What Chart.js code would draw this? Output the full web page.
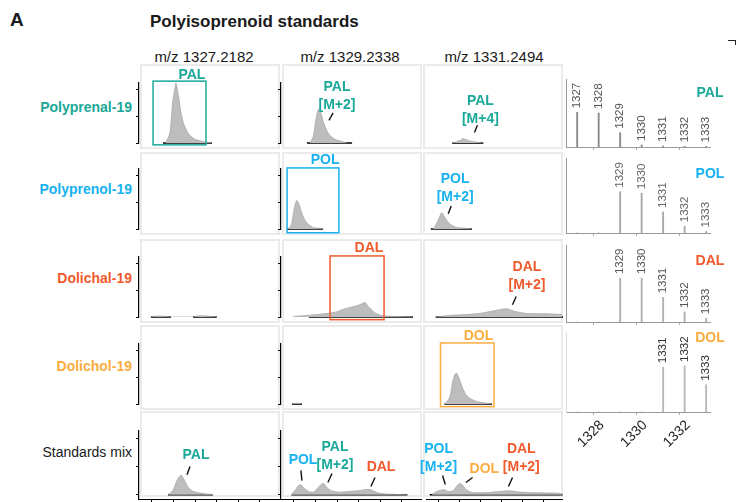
<!DOCTYPE html>
<html>
<head>
<meta charset="utf-8">
<script src="https://cdn.jsdelivr.net/npm/chart.js@4.4.1/dist/chart.umd.min.js"></script>
<style>
  body { margin: 0; background: #fff; }
  #fig { position: relative; width: 737px; height: 502px; overflow: hidden; font-family: "Liberation Sans", Arial, sans-serif; color: #1a1a1a; }
  .txt { position: absolute; white-space: nowrap; line-height: 1; }
  .rowlab { position: absolute; right: 605px; white-space: nowrap; font-size: 14px; font-weight: bold; line-height: 1; }
  .head { position: absolute; width: 140px; text-align: center; font-size: 15px; line-height: 1; }
  canvas { position: absolute; }
</style>
</head>
<body>
<div id="fig">
  <div class="txt" style="left:10px;top:10px;font-size:19px;font-weight:bold">A</div>
  <div class="txt" style="left:150px;top:13px;font-size:17px;font-weight:bold">Polyisoprenoid standards</div>
  <div class="head" style="left:134px;top:49px">m/z 1327.2182</div>
  <div class="head" style="left:280px;top:49px">m/z 1329.2338</div>
  <div class="head" style="left:424px;top:49px">m/z 1331.2494</div>
  <div class="rowlab" style="top:100px;color:#1aa898">Polyprenal-19</div>
  <div class="rowlab" style="top:182px;color:#17b2ef">Polyprenol-19</div>
  <div class="rowlab" style="top:271px;color:#f15a2b">Dolichal-19</div>
  <div class="rowlab" style="top:359px;color:#fbad3f">Dolichol-19</div>
  <div class="rowlab" style="top:445px;font-weight:normal">Standards mix</div>
  <div style="position:absolute;left:728px;top:40px;width:7px;height:4px;border-top:1px solid #222;border-right:1px solid #222"></div>
</div>
<script>
// ---------- colours ----------
const TEAL = "#1aa898";
const BLUE = "#17b2ef";
const RED = "#f15a2b";
const ORANGE = "#fbad3f";

// ---------- extracted ion chromatograms: [retention time, intensity] ----------
const palStd1327 = [[1.64, 0], [1.83, 0.38], [1.96, 1.55], [2.07, 2.08], [2.11, 2.25], [2.22, 1.80], [2.33, 1.20], [2.45, 0.77], [2.61, 0.46], [2.76, 0.28], [2.99, 0.14], [3.30, 0.07], [3.53, 0.03], [3.78, 0]];
const palStd1329 = [[1.74, 0], [1.90, 0.26], [2.02, 0.90], [2.13, 1.26], [2.24, 1.14], [2.36, 0.79], [2.51, 0.49], [2.67, 0.28], [2.90, 0.14], [3.21, 0.06], [3.44, 0]];
const palStd1331 = [[1.65, 0], [1.85, 0.04], [1.98, 0.10], [2.05, 0.08], [2.10, 0.15], [2.16, 0.18], [2.22, 0.12], [2.31, 0.14], [2.42, 0.09], [2.54, 0.07], [2.77, 0.035], [3.00, 0.01], [3.13, 0]];
const polStd1329 = [[0.74, 0], [0.89, 0.18], [1.00, 0.71], [1.12, 1.07], [1.23, 0.95], [1.36, 0.60], [1.51, 0.33], [1.66, 0.18], [1.89, 0.06], [2.20, 0.02], [2.36, 0]];
const polStd1331 = [[0.74, 0], [0.89, 0.18], [1.05, 0.47], [1.15, 0.61], [1.26, 0.49], [1.42, 0.29], [1.62, 0.14], [1.85, 0.06], [2.31, 0.02], [2.59, 0]];
const dalStd1327 = [[0.95, 0], [1.30, 0.04], [1.60, 0.02], [1.88, 0], [2.90, 0], [3.20, 0.05], [3.60, 0.03], [4.00, 0]];
const dalStd1329 = [[0.97, 0.02], [1.74, 0.07], [2.05, 0.09], [2.67, 0.15], [3.00, 0.20], [3.28, 0.29], [3.60, 0.36], [3.90, 0.42], [4.10, 0.48], [4.29, 0.54], [4.44, 0.39], [4.67, 0.21], [4.90, 0.09], [5.28, 0.035], [6.49, 0]];
const dalStd1331 = [[0.85, 0], [1.54, 0.06], [2.31, 0.09], [3.08, 0.15], [3.70, 0.24], [4.24, 0.31], [4.63, 0.21], [5.24, 0.13], [6.17, 0.12], [6.94, 0.09]];
const dolStd1329 = [[0.91, 0], [1.10, 0.03], [1.37, 0]];
const dolStd1331 = [[1.31, 0], [1.54, 0.27], [1.66, 0.80], [1.77, 1.10], [1.85, 1.16], [1.97, 0.98], [2.13, 0.63], [2.31, 0.35], [2.54, 0.19], [2.85, 0.09], [3.24, 0.035], [3.55, 0]];
const mix1327 = [[1.76, 0], [1.99, 0.18], [2.14, 0.47], [2.30, 0.67], [2.37, 0.68], [2.53, 0.47], [2.68, 0.26], [2.91, 0.12], [3.22, 0.06], [3.84, 0]];
const mix1329 = [[0.89, 0.02], [1.08, 0.18], [1.20, 0.32], [1.32, 0.35], [1.46, 0.24], [1.66, 0.12], [1.89, 0.09], [2.13, 0.26], [2.28, 0.38], [2.39, 0.39], [2.54, 0.24], [2.74, 0.14], [3.13, 0.09], [3.59, 0.12], [4.06, 0.15], [4.38, 0.19], [4.61, 0.16], [4.92, 0.06], [5.46, 0.02], [6.25, 0]];
const mix1331 = [[0.69, 0.02], [1.00, 0.14], [1.26, 0.18], [1.46, 0.12], [1.69, 0.14], [1.85, 0.29], [2.00, 0.40], [2.13, 0.35], [2.31, 0.18], [2.62, 0.08], [3.39, 0.08], [4.00, 0.12], [4.39, 0.14], [4.94, 0.09], [5.71, 0.07], [6.79, 0.05], [6.91, 0]];

// integration windows (black bars under the traces): [start, end]
const palStd1327Win = [[1.51, 3.78]];
const palStd1329Win = [[1.60, 3.69]];
const palStd1331Win = [[1.65, 3.13]];
const polStd1329Win = [[0.68, 2.34]];
const polStd1331Win = [[0.63, 2.59]];
const dalStd1327Win = [[0.95, 1.88], [2.90, 4.00]];
const dalStd1329Win = [[1.69, 6.51]];
const dalStd1331Win = [[0.86, 6.93]];
const dolStd1329Win = [[0.91, 1.37]];
const dolStd1331Win = [[1.28, 3.55]];
const mix1327Win = [[1.74, 3.82]];
const mix1329Win = [[0.89, 6.25]];
const mix1331Win = [[0.58, 6.91]];

// ---------- isotope patterns (relative intensity) ----------
const specMz = [1327.22, 1328.22, 1329.22, 1330.22, 1331.22, 1332.22, 1333.22];
const specLabels = ["1327", "1328", "1329", "1330", "1331", "1332", "1333"];
const palSpec = [0.51, 0.50, 0.21, 0.03, 0.015, 0.01, 0.008];
const polSpec = [0, 0, 0.55, 0.53, 0.28, 0.09, 0.02];
const dalSpec = [0, 0, 0.57, 0.57, 0.32, 0.13, 0.05];
const dolSpec = [0, 0, 0, 0, 0.56, 0.575, 0.34];

// ---------- layout ----------
const colLeft = [141, 283, 424];
const rowTop = [65, 153, 240, 326, 412];
const rowBase = [147, 233, 321, 408, 495];
const PANEL_W = 138;
const FONT = '"Liberation Sans", Arial, sans-serif';

Chart.defaults.font.family = FONT;

const panels = [
  { row: 0, col: 0, trace: palStd1327, win: palStd1327Win,
    rect: { t0: 1.05, t1: 3.5, v0: -0.07, v1: 2.32, color: TEAL },
    notes: [{ text: ["PAL"], color: TEAL, t: 2.85, v: 2.54 }] },
  { row: 0, col: 1, trace: palStd1329, win: palStd1329Win,
    notes: [{ text: ["PAL", "[M+2]"], color: TEAL, t: 2.99, v: 2.11, lead: [2.81, 1.13, 2.62, 0.85] }] },
  { row: 0, col: 2, trace: palStd1331, win: palStd1331Win,
    notes: [{ text: ["PAL", "[M+4]"], color: TEAL, t: 2.99, v: 1.58, lead: [2.85, 0.67, 2.71, 0.39] }] },
  { row: 1, col: 0, trace: [], win: [] },
  { row: 1, col: 1, trace: polStd1329, win: polStd1329Win,
    rect: { t0: 0.68, t1: 3.08, v0: -0.14, v1: 2.29, color: BLUE },
    notes: [{ text: ["POL"], color: BLUE, t: 2.44, v: 2.57 }] },
  { row: 1, col: 2, trace: polStd1331, win: polStd1331Win,
    notes: [{ text: ["POL", "[M+2]"], color: BLUE, t: 1.79, v: 1.86, lead: [1.60, 0.86, 1.46, 0.57] }] },
  { row: 2, col: 0, trace: dalStd1327, win: dalStd1327Win },
  { row: 2, col: 1, trace: dalStd1329, win: dalStd1329Win,
    rect: { t0: 2.67, t1: 5.17, v0: -0.1, v1: 2.29, color: RED },
    notes: [{ text: ["DAL"], color: RED, t: 4.47, v: 2.6 }] },
  { row: 2, col: 2, trace: dalStd1331, win: dalStd1331Win,
    notes: [{ text: ["DAL", "[M+2]"], color: RED, t: 5.21, v: 1.87, lead: [4.70, 0.77, 4.52, 0.46] }] },
  { row: 3, col: 0, trace: [], win: [] },
  { row: 3, col: 1, trace: dolStd1329, win: dolStd1329Win },
  { row: 3, col: 2, trace: dolStd1331, win: dolStd1331Win,
    rect: { t0: 1.09, t1: 3.64, v0: -0.1, v1: 2.29, color: ORANGE },
    notes: [{ text: ["DOL"], color: ORANGE, t: 2.9, v: 2.54 }] },
  { row: 4, col: 0, trace: mix1327, win: mix1327Win,
    notes: [{ text: ["PAL"], color: TEAL, t: 3.04, v: 1.39, lead: [2.76, 1.0, 2.62, 0.71] }] },
  { row: 4, col: 1, trace: mix1329, win: mix1329Win,
    notes: [
      { text: ["POL"], color: BLUE, t: 1.42, v: 1.21, lead: [1.32, 0.86, 1.37, 0.5] },
      { text: ["PAL", "[M+2]"], color: TEAL, t: 2.90, v: 1.68, lead: [2.76, 0.75, 2.57, 0.43] },
      { text: ["DAL"], color: RED, t: 5.03, v: 0.96, lead: [4.75, 0.61, 4.56, 0.29] }
    ] },
  { row: 4, col: 2, trace: mix1331, win: mix1331Win,
    notes: [
      { text: ["POL", "[M+2]"], color: BLUE, t: 1.0, v: 1.61, lead: [1.19, 0.68, 1.32, 0.36] },
      { text: ["DOL"], color: ORANGE, t: 3.18, v: 0.89, lead: [2.62, 0.61, 2.30, 0.43] },
      { text: ["DAL", "[M+2]"], color: RED, t: 4.94, v: 1.61, lead: [4.52, 0.61, 4.33, 0.29] }
    ] }
];

const spectra = [
  { top: 79, bottom: 147, vals: palSpec, name: "PAL", color: TEAL, nameDy: 14, peak: "#8a8a8a", labelColor: "#555" },
  { top: 158, bottom: 233, vals: polSpec, name: "POL", color: BLUE, nameDy: 16, peak: "#a8a8a8", labelColor: "#666" },
  { top: 245, bottom: 322, vals: dalSpec, name: "DAL", color: RED, nameDy: 16, peak: "#b0b0b0", labelColor: "#555" },
  { top: 332, bottom: 412, vals: dolSpec, name: "DOL", color: ORANGE, nameDy: 6, peak: "#b8b8b8", labelColor: "#333", last: true }
];

const fig = document.getElementById("fig");

function addCanvas(left, top, w, h) {
  const c = document.createElement("canvas");
  c.width = w;
  c.height = h;
  c.style.left = left + "px";
  c.style.top = top + "px";
  fig.appendChild(c);
  return c;
}

// grey frame, highlight box and peak annotations for one chromatogram panel
function chromDeco(p, box) {
  return {
    id: "chromDeco",
    beforeDraw(chart) {
      const ctx = chart.ctx;
      ctx.save();
      ctx.strokeStyle = "#ebebeb";
      ctx.lineWidth = 2;
      ctx.strokeRect(box.x, box.y, box.w, box.h);
      ctx.restore();
    },
    afterDraw(chart) {
      const ctx = chart.ctx, xs = chart.scales.x, ys = chart.scales.y;
      ctx.save();
      if (p.rect) {
        const r = p.rect;
        ctx.strokeStyle = r.color;
        ctx.lineWidth = 1.5;
        const x0 = xs.getPixelForValue(r.t0), x1 = xs.getPixelForValue(r.t1);
        const y0 = ys.getPixelForValue(r.v1), y1 = ys.getPixelForValue(r.v0);
        ctx.strokeRect(x0, y0, x1 - x0, y1 - y0);
      }
      (p.notes || []).forEach(function (n) {
        ctx.fillStyle = n.color;
        ctx.font = "bold 14px " + FONT;
        ctx.textAlign = "center";
        ctx.textBaseline = "middle";
        n.text.forEach(function (s, i) {
          ctx.fillText(s, xs.getPixelForValue(n.t), ys.getPixelForValue(n.v) + i * 18);
        });
        if (n.lead) {
          ctx.beginPath();
          ctx.moveTo(xs.getPixelForValue(n.lead[0]), ys.getPixelForValue(n.lead[1]));
          ctx.lineTo(xs.getPixelForValue(n.lead[2]), ys.getPixelForValue(n.lead[3]));
          ctx.strokeStyle = "#111";
          ctx.lineWidth = 1.4;
          ctx.stroke();
        }
      });
      ctx.restore();
    }
  };
}

function chromChart(p) {
  const bx = colLeft[p.col], by = rowTop[p.row], base = rowBase[p.row];
  const last = p.row === 4;
  const cLeft = bx - 12, cTop = by - 2;
  const cW = PANEL_W + 14;
  const cH = last ? 503 - cTop : base + 6 - cTop;
  const canvas = addCanvas(cLeft, cTop, cW, cH);

  // window bars, split with null so separate windows are not joined
  const winPts = [];
  p.win.forEach(function (w, i) {
    if (i > 0) winPts.push({ x: (p.win[i - 1][1] + w[0]) / 2, y: null });
    winPts.push({ x: w[0], y: 0 }, { x: w[1], y: 0 });
  });

  new Chart(canvas, {
    type: "line",
    data: {
      datasets: [
        {
          data: p.trace.map(d => ({ x: d[0], y: d[1] })),
          fill: "origin",
          backgroundColor: "#bdbdbd",
          borderColor: "#a8a8a8",
          borderWidth: 0.8,
          pointRadius: 0,
          tension: 0.25
        },
        {
          data: winPts,
          borderColor: "#000",
          borderWidth: 1.6,
          pointRadius: 0,
          fill: false,
          spanGaps: false,
          clip: false
        }
      ]
    },
    options: {
      responsive: false,
      animation: false,
      layout: {
        padding: { left: p.col < 2 ? 6 : 10, right: 2, top: (base - 64) - cTop, bottom: last ? 0 : cTop + cH - base }
      },
      plugins: { legend: { display: false }, tooltip: { enabled: false } },
      scales: {
        x: {
          type: "linear",
          min: 0.4,
          max: 6.88,
          display: last,
          ticks: { display: false, stepSize: 1, includeBounds: false },
          grid: { drawOnChartArea: false, drawTicks: true, tickLength: 3, color: "#000" },
          border: { color: "#000", width: 1 },
          afterFit: function (s) { s.height = 4; }
        },
        y: {
          min: last ? -0.15 : 0,
          max: 2.25,
          display: p.col < 2,
          ticks: { display: false, stepSize: 1, includeBounds: false },
          grid: { drawOnChartArea: false, drawTicks: true, tickLength: 3, color: "#000" },
          border: { color: "#000", width: 1.2 },
          afterFit: function (s) { s.width = 4; }
        }
      }
    },
    plugins: [chromDeco(p, { x: bx - cLeft, y: by - cTop, w: PANEL_W, h: base - by + 1 })]
  });
}

// m/z labels above the sticks and the compound name at the right
function specDeco(s) {
  return {
    id: "specDeco",
    afterDatasetsDraw(chart) {
      const ctx = chart.ctx;
      const meta = chart.getDatasetMeta(0);
      ctx.save();
      ctx.fillStyle = s.labelColor;
      ctx.font = "11.5px " + FONT;
      ctx.textAlign = "left";
      ctx.textBaseline = "middle";
      meta.data.forEach(function (el, i) {
        if (!s.vals[i]) return;
        ctx.save();
        ctx.translate(el.x, el.y - 4);
        ctx.rotate(-Math.PI / 2);
        ctx.fillText(specLabels[i], 0, 0);
        ctx.restore();
      });
      ctx.fillStyle = s.color;
      ctx.font = "bold 14px " + FONT;
      ctx.textAlign = "center";
      ctx.fillText(s.name, chart.chartArea.right, chart.chartArea.top + s.nameDy);
      ctx.restore();
    }
  };
}

function specChart(s) {
  const cLeft = 556, cTop = s.top - 12;
  const axisH = s.last ? 48 : 4;
  const cW = 181, cH = s.bottom + axisH - cTop;
  const canvas = addCanvas(cLeft, cTop, cW, cH);
  new Chart(canvas, {
    type: "bar",
    data: {
      datasets: [{
        data: specMz.map((m, i) => ({ x: m, y: s.vals[i] })),
        backgroundColor: s.peak,
        barThickness: 1.2
      }]
    },
    options: {
      responsive: false,
      animation: false,
      layout: { padding: { left: 10, right: 27, top: 12, bottom: 0 } },
      plugins: { legend: { display: false }, tooltip: { enabled: false } },
      scales: {
        x: {
          type: "linear",
          min: 1326.7,
          max: 1333.4,
          offset: false,
          ticks: {
            display: !!s.last,
            stepSize: 2,
            includeBounds: false,
            autoSkip: false,
            minRotation: 45,
            maxRotation: 45,
            padding: 2,
            labelOffset: 8,
            color: "#222",
            font: { size: 14 },
            callback: function (v) { return String(v); }
          },
          grid: { offset: false, drawOnChartArea: false, drawTicks: true, tickLength: 3, color: "#aaa" },
          border: { color: "#999", width: 1 },
          afterFit: function (sc) { sc.height = axisH; }
        },
        y: {
          min: 0,
          max: 1,
          ticks: { display: false },
          grid: { display: false },
          border: { color: s.last ? "#ddd" : "#999", width: 1 },
          afterFit: function (sc) { sc.width = 0; }
        }
      }
    },
    plugins: [specDeco(s)]
  });
}

panels.forEach(chromChart);
spectra.forEach(specChart);
</script>
</body>
</html>
